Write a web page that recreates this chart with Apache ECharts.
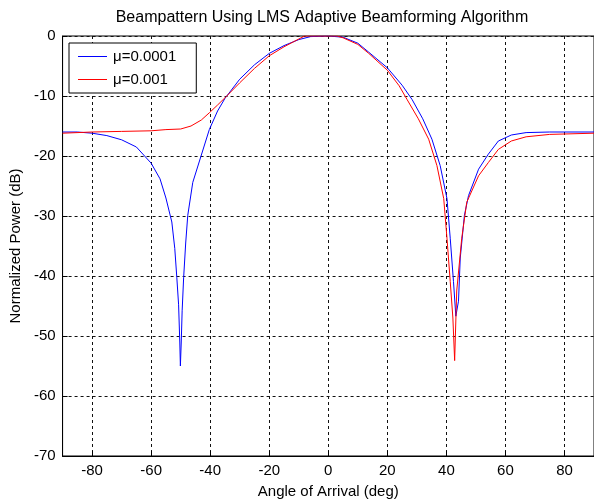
<!DOCTYPE html>
<html>
<head>
<meta charset="utf-8">
<script src="https://cdn.jsdelivr.net/npm/echarts@6/dist/echarts.min.js"></script>
<style>
html,body{margin:0;padding:0;background:#fff;}
#chart{width:594px;height:504px;}
</style>
</head>
<body>
<div id="chart"></div>
<script>
const titleText = 'Beampattern Using LMS Adaptive Beamforming Algorithm';
const xName = 'Angle of Arrival (deg)';
const yName = 'Normalized Power (dB)';
const seriesNames = ['\u03bc=0.0001', '\u03bc=0.001'];

const blueAngles = [-90,-85,-80,-75,-70,-65,-60,-57,-55,-53,-52,-51.3,-50.7,-50.3,-50.1,-49.8,-49.5,-49.0,-48.3,-47.6,-45.9,-43.1,-40.3,-37.5,-35,-30,-25,-20,-15,-10,-6,0,5,10,13.7,20,25,28.4,32,35.1,37.9,40.2,41.3,42.4,43.2,44.1,44.7,46.1,47.5,50.9,54.2,57.6,62,67,75,90];
const bluePower  = [-16.0,-16.0,-16.2,-16.6,-17.3,-18.5,-21.2,-23.8,-27.0,-31.0,-35.4,-40.3,-44.8,-51.0,-55.0,-51.0,-45.8,-40.3,-34.5,-29.9,-24.4,-20.0,-15.6,-12.5,-10.4,-7.2,-4.8,-2.9,-1.6,-0.6,-0.1,0,-0.2,-1.2,-2.7,-5.3,-8.2,-10.6,-13.8,-17.2,-21.6,-27.1,-33.7,-40.9,-46.7,-44.2,-37.0,-29.9,-26.6,-22.2,-19.7,-17.5,-16.5,-16.1,-16.0,-16.0];

const redAngles = [-90,-80,-70,-60,-55,-50,-46.5,-43,-40.3,-37.5,-35,-30,-25,-20,-15,-10,-8,0,3,5,10,13.7,20,24,26.7,30.5,34.0,36.8,39.1,40.2,41.3,42.2,42.8,43.5,45.2,46.9,50.9,54.2,57.6,62,67,75,90];
const redPower  = [-16.2,-16.0,-15.9,-15.8,-15.6,-15.5,-15.0,-14.0,-12.8,-11.5,-10.3,-7.8,-5.4,-3.3,-1.8,-0.5,0,0,0,-0.3,-1.4,-2.9,-5.7,-8.3,-10.6,-13.8,-17.2,-21.6,-27.1,-33.7,-40.9,-47.0,-54.1,-42.5,-33.7,-27.7,-23.3,-21.1,-18.9,-17.5,-16.8,-16.4,-16.2];

const FONT = '"Liberation Sans", Arial, sans-serif';
const pairs = (xs, ys) => xs.map((x, i) => [x, ys[i]]);

const chart = echarts.init(document.getElementById('chart'));
chart.setOption({
  backgroundColor: '#fff',
  animation: false,
  graphic: [{
    type: 'text', x: 322, y: 18,
    style: { text: titleText, font: '16px ' + FONT, fill: '#000', align: 'center', verticalAlign: 'middle' }
  }],
  grid: { left: 62, top: 36, right: -1, bottom: 45, show: true, borderColor: '#000', borderWidth: 1 },
  legend: {
    left: 69, top: 43, orient: 'vertical',
    backgroundColor: '#fff', borderColor: '#000', borderWidth: 1,
    padding: [6, 20, 6, 9], itemWidth: 29, itemHeight: 1, itemGap: 8,
    icon: 'rect',
    textStyle: { fontSize: 15, fontFamily: FONT, color: '#000', lineHeight: 14, padding: [0, 0, 0, 1] },
    data: seriesNames
  },
  xAxis: {
    type: 'value', min: -90, max: 90, splitNumber: 9,
    name: xName, nameLocation: 'middle', nameGap: 28,
    nameTextStyle: { fontSize: 15, fontFamily: FONT, color: '#000' },
    axisLine: { show: true, onZero: false, lineStyle: { color: '#000', width: 1 } },
    axisTick: { show: true, inside: true, length: 5, lineStyle: { color: '#000' } },
    axisLabel: { showMinLabel: false, showMaxLabel: false, margin: 7, fontSize: 15, fontFamily: FONT, color: '#000' },
    splitLine: { show: true, lineStyle: { color: '#111', type: [3, 3], width: 1 } }
  },
  yAxis: {
    type: 'value', min: -70, max: 0, interval: 10,
    name: yName, nameLocation: 'middle', nameGap: 39,
    nameTextStyle: { fontSize: 15, fontFamily: FONT, color: '#000' },
    axisLine: { show: true, onZero: false, lineStyle: { color: '#000', width: 1 } },
    axisTick: { show: true, inside: true, length: 5, lineStyle: { color: '#000' } },
    axisLabel: { margin: 7, fontSize: 15, fontFamily: FONT, color: '#000' },
    splitLine: { show: true, lineStyle: { color: '#111', type: [3, 3], width: 1 } }
  },
  series: [
    { name: seriesNames[0], type: 'line', data: pairs(blueAngles, bluePower), symbol: 'none', clip: true,
      lineStyle: { color: '#0000ff', width: 1 }, itemStyle: { color: '#0000ff' } },
    { name: seriesNames[1], type: 'line', data: pairs(redAngles, redPower), symbol: 'none', clip: true,
      lineStyle: { color: '#ff0000', width: 1 }, itemStyle: { color: '#ff0000' } }
  ]
});
</script>
</body>
</html>
